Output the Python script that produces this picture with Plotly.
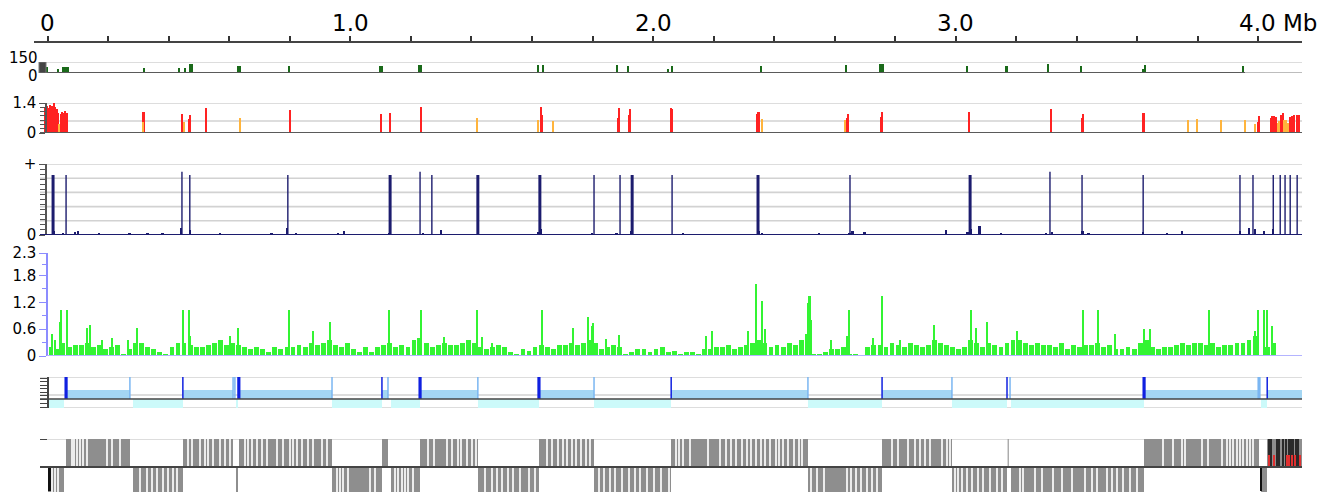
import plotly.graph_objects as go

# ---------------- DATA (positions in Mb) ----------------
axis_tick_vals = [0, 0.2, 0.4, 0.6, 0.8, 1.0, 1.2, 1.4, 1.6, 1.8, 2.0, 2.2, 2.4, 2.6, 2.8, 3.0, 3.2, 3.4, 3.6, 3.8, 4.0]
axis_label_vals = [0, 1.0, 2.0, 3.0]
axis_label_text = ["0", "1.0", "2.0", "3.0"]
axis_last_label = "4.0 Mb"

# track 1 : dark green bars (0-150)
t1_pos = [-0.003, 0.033, 0.058, 0.317, 0.433, 0.453, 0.474, 0.631, 0.797, 1.101, 1.230, 1.620, 1.636,
          1.881, 1.917, 2.050, 2.063, 2.357, 2.638, 2.755, 3.038, 3.167, 3.306, 3.415, 3.620, 3.626, 3.950]
t1_val = [80, 60, 82, 72, 75, 75, 118, 95, 95, 90, 115, 115, 115,
          115, 95, 60, 100, 95, 115, 118, 100, 95, 125, 95, 60, 115, 100]
t1_wid = [0.004, 0.003, 0.023, 0.007, 0.006, 0.006, 0.013, 0.013, 0.006, 0.013, 0.013, 0.007, 0.007,
          0.006, 0.006, 0.005, 0.007, 0.006, 0.006, 0.018, 0.006, 0.010, 0.006, 0.006, 0.005, 0.006, 0.006]
t1_labels = ["150", "0"]

# track 2 : red / orange bars (0-1.4)
t2_pos = [-0.007, -0.002, 0.003, 0.008, 0.013, 0.020, 0.025, 0.030, 0.035, 0.038, 0.043, 0.048, 0.053, 0.058, 0.063,
          0.315, 0.317, 0.443, 0.450, 0.466, 0.471, 0.522, 0.635, 0.800, 1.101, 1.131, 1.233,
          1.418, 1.620, 1.630, 1.633, 1.669, 1.884, 1.888, 1.921, 1.924, 2.060, 2.063,
          2.344, 2.347, 2.350, 2.360, 2.635, 2.641, 2.645, 2.754, 2.757, 3.045, 3.316, 3.418, 3.421, 3.620, 3.623,
          3.769, 3.798, 3.878, 3.957, 3.990, 4.000, 4.003,
          4.043, 4.046, 4.053, 4.060, 4.066, 4.069, 4.076, 4.083, 4.086, 4.093, 4.099, 4.106, 4.112, 4.119, 4.129, 4.136]
t2_val = [1.2, 1.25, 1.15, 1.3, 1.28, 1.4, 1.22, 1.1, 0.95, 0.4, 0.9, 1.0, 0.95, 1.05, 0.95,
          0.5, 0.98, 0.89, 0.5, 0.65, 0.84, 1.17, 0.7, 1.07, 0.9, 0.93, 1.2,
          0.7, 0.6, 1.2, 0.85, 0.56, 0.7, 1.15, 0.85, 1.1, 1.15, 1.1,
          0.9, 0.96, 0.96, 0.65, 0.6, 0.7, 0.87, 0.75, 0.96, 0.98, 1.1, 0.7, 0.9, 0.95, 0.95,
          0.6, 0.65, 0.6, 0.6, 0.4, 0.5, 0.8,
          0.7, 0.8, 0.8, 0.75, 0.45, 0.55, 0.85, 0.95, 0.6, 0.6, 0.45, 0.75, 0.8, 0.85, 0.85, 0.85]
t2_kind = ["r", "r", "r", "r", "r", "r", "r", "r", "r", "o", "r", "r", "r", "r", "r",
           "o", "r", "r", "o", "r", "r", "r", "o", "r", "r", "r", "r",
           "o", "o", "r", "r", "o", "r", "r", "r", "r", "r", "r",
           "r", "r", "r", "o", "o", "r", "r", "r", "r", "r", "r", "r", "r", "r", "r",
           "o", "o", "o", "o", "o", "r", "r",
           "r", "r", "r", "r", "o", "o", "r", "r", "o", "o", "o", "r", "r", "r", "r", "r"]

# track 3 : navy spikes (0-1, "+" = top)
t3_pos = [0.017, 0.060, 0.443, 0.469, 0.793, 1.131, 1.230, 1.269, 1.421, 1.626, 1.805, 1.891, 1.931, 2.063,
          2.347, 2.651, 3.048, 3.312, 3.418, 3.620, 3.940, 3.983, 4.050, 4.073, 4.089, 4.106, 4.129]
t3_val = [0.845, 0.845, 0.89, 0.845, 0.845, 0.845, 0.89, 0.845, 0.845, 0.845, 0.845, 0.845, 0.845, 0.845,
          0.845, 0.845, 0.845, 0.89, 0.845, 0.845, 0.845, 0.845, 0.845, 0.845, 0.845, 0.845, 0.845]
t3_thick = [1, 0, 0, 0, 0, 1, 0, 0, 1, 1, 0, 0, 1, 0, 1, 0, 1, 0, 0, 0, 0, 0, 0, 0, 0, 0, 0]
t3_noise_pos = [0.02, 0.05, 0.09, 0.10, 0.17, 0.27, 0.33, 0.38, 0.44, 0.47, 0.57, 0.74, 0.79, 0.82, 0.96, 0.98,
                1.13, 1.24, 1.30, 1.62, 1.63, 1.80, 1.88, 1.93, 2.10, 2.35, 2.36, 2.55, 2.65, 2.66, 2.70, 2.97,
                3.04, 3.05, 3.08, 3.15, 3.30, 3.32, 3.42, 3.44, 3.62, 3.70, 3.75, 3.94, 3.97, 3.99, 4.02, 4.05]
t3_noise_val = [0.05, 0.03, 0.04, 0.05, 0.02, 0.02, 0.02, 0.02, 0.10, 0.07, 0.02, 0.02, 0.10, 0.03, 0.03, 0.05,
                0.03, 0.03, 0.07, 0.04, 0.08, 0.03, 0.03, 0.06, 0.02, 0.06, 0.03, 0.02, 0.03, 0.05, 0.04, 0.07,
                0.04, 0.08, 0.13, 0.03, 0.03, 0.04, 0.05, 0.02, 0.04, 0.02, 0.05, 0.06, 0.10, 0.08, 0.06, 0.09]

# track 4 : green bars (0-2.3), background bins of 0.02 Mb from 0
t4_bin_start = 0.0
t4_bin_size = 0.02
t4_bins = [0.2, 0.15, 0.3, 0.2, 0.25, 0.25, 0.3, 0.2, 0.25, 0.15, 0.2, 0.25, 0.05, 0.15, 0.3,
           0.3, 0.2, 0.15, 0.1, 0.05, 0.2, 0.3, 0.3, 0.25, 0.2, 0.2, 0.25, 0.3, 0.35, 0.25,
           0.3, 0.25, 0.2, 0.15, 0.2, 0.15, 0.1, 0.2, 0.15, 0.2, 0.2, 0.25, 0.2, 0.3, 0.25,
           0.3, 0.35, 0.25, 0.2, 0.3, 0.15, 0.1, 0.2, 0.1, 0.2, 0.25, 0.3, 0.2, 0.25, 0.2,
           0.35, 0.4, 0.3, 0.2, 0.25, 0.3, 0.25, 0.25, 0.3, 0.35, 0.3, 0.2, 0.15, 0.2, 0.25,
           0.2, 0.1, 0.05, 0.15, 0.12, 0.2, 0.25, 0.2, 0.15, 0.25, 0.25, 0.3, 0.25, 0.3, 0.35,
           0.3, 0.15, 0.2, 0.25, 0.2, 0.05, 0.1, 0.15, 0.15, 0.1, 0.15, 0.2, 0.1, 0.12, 0.05,
           0.08, 0.1, 0.05, 0.15, 0.15, 0.2, 0.2, 0.25, 0.15, 0.2, 0.25, 0.3, 0.35, 0.3, 0.2,
           0.25, 0.2, 0.3, 0.25, 0.35, 0.5, 0.05, 0.05, 0.1, 0.15, 0.15, 0.2, 0.05, 0.03, 0.02,
           0.2, 0.25, 0.25, 0.2, 0.3, 0.25, 0.2, 0.3, 0.25, 0.2, 0.25, 0.35, 0.3, 0.25, 0.2,
           0.15, 0.2, 0.35, 0.3, 0.2, 0.3, 0.25, 0.2, 0.3, 0.35, 0.35, 0.3, 0.25, 0.3, 0.25,
           0.25, 0.2, 0.3, 0.15, 0.25, 0.2, 0.25, 0.25, 0.3, 0.2, 0.25, 0.15, 0.15, 0.2, 0.15,
           0.3, 0.35, 0.2, 0.15, 0.2, 0.2, 0.25, 0.3, 0.25, 0.3, 0.3, 0.25, 0.3, 0.2, 0.25,
           0.25, 0.3, 0.3, 0.35, 0.45, 0.0, 0.2, 0.3]
t4_spike_pos = [0.013, 0.023, 0.040, 0.043, 0.063, 0.129, 0.139, 0.179, 0.212, 0.264, 0.294, 0.446, 0.466, 0.469,
                0.602, 0.628, 0.797, 0.876, 0.932, 1.127, 1.223, 1.233, 1.309, 1.420, 1.435, 1.468, 1.635, 1.736,
                1.765, 1.785, 1.798, 1.804, 1.845, 1.888, 2.175, 2.195, 2.314, 2.340, 2.362, 2.370, 2.512, 2.518,
                2.522, 2.588, 2.641, 2.648, 2.727, 2.757, 2.817, 2.931, 3.051, 3.067, 3.104, 3.203, 3.421, 3.471,
                3.527, 3.623, 3.643, 3.838, 3.990, 4.000, 4.020, 4.030, 4.046]
t4_spike_val = [0.5, 0.35, 0.75, 1.03, 1.03, 0.62, 0.69, 0.35, 0.4, 0.35, 0.62, 1.03, 1.03, 0.45,
                0.45, 0.62, 1.03, 0.55, 0.75, 1.03, 0.4, 1.03, 0.42, 1.03, 0.42, 0.3, 1.03, 0.62,
                0.3, 0.86, 0.68, 0.74, 0.38, 0.47, 0.45, 0.55, 0.55, 1.61, 1.23, 0.6, 1.18, 1.33,
                0.8, 0.35, 0.45, 1.03, 0.4, 1.33, 0.35, 0.7, 1.03, 0.62, 0.75, 0.56, 1.03, 1.03,
                0.49, 0.6, 0.6, 1.03, 0.56, 1.03, 1.03, 1.03, 0.67]
t4_tick_labels = ["0", "0.6", "1.2", "1.8", "2.3"]
t4_tick_vals = [0, 0.6, 1.2, 1.8, 2.3]

# track 5 : gene blocks
fwd_start = [0.060, 0.446, 0.631, 1.104, 1.230, 1.623, 2.060, 2.757, 3.623, 4.030]
fwd_end = [0.271, 0.612, 0.939, 1.124, 1.421, 1.805, 2.512, 2.988, 4.003, 4.145]
rev_start = [-0.001, 0.281, 0.620, 0.939, 1.134, 1.421, 1.805, 2.512, 2.988, 3.183, 4.010]
rev_end = [0.053, 0.446, 0.628, 1.104, 1.230, 1.623, 2.060, 2.757, 3.170, 3.623, 4.030]
gene_dark = [0.060, 0.446, 0.631, 1.104, 1.230, 1.623, 2.060, 2.757, 3.170, 3.623, 4.030]
gene_dark_thick = [1, 0, 1, 0, 1, 1, 0, 0, 0, 1, 0]
gene_light = [0.271, 0.612, 0.618, 0.939, 1.124, 1.421, 1.805, 2.512, 2.988, 3.180, 4.003]
gene_light_thick = [0, 0, 0, 0, 0, 0, 0, 0, 0, 0, 1]

# track 6 : grey blocks with light stripes
up_stripes = [0.079, 0.086, 0.096, 0.106, 0.116, 0.129, 0.195, 0.212, 0.238,
              0.463, 0.476, 0.503, 0.519, 0.529, 0.545, 0.569, 0.585, 0.602,
              0.651, 0.661, 0.674, 0.691, 0.707, 0.724, 0.757, 0.777, 0.800, 0.810, 0.823, 0.840, 0.860, 0.876, 0.906, 0.922,
              1.256, 1.276, 1.319, 1.337, 1.355, 1.365, 1.385, 1.402, 1.415,
              1.650, 1.668, 1.686, 1.703, 1.716, 1.732, 1.746, 1.762, 1.779, 1.792,
              2.076, 2.086, 2.099, 2.122, 2.182, 2.222, 2.241, 2.258, 2.274, 2.294, 2.311, 2.324, 2.341, 2.357, 2.370,
              2.387, 2.407, 2.417, 2.430, 2.446, 2.466, 2.483, 2.493,
              2.790, 2.810, 2.843, 2.866, 2.883, 2.899, 2.916, 2.955, 2.972, 2.982,
              3.686, 3.719, 3.749, 3.759, 3.815, 3.835, 3.881, 3.897, 3.907, 3.917, 3.930, 3.940, 3.950, 3.963, 3.973, 3.983]
low_stripes = [0.013, 0.023, 0.033,
               0.304, 0.327, 0.344, 0.360, 0.380, 0.397, 0.413, 0.426,
               0.955, 0.965, 0.975, 0.992, 1.065, 1.081,
               1.147, 1.157, 1.170, 1.180, 1.190, 1.207,
               1.445, 1.468, 1.484, 1.502, 1.521, 1.537, 1.560, 1.590, 1.610,
               1.822, 1.838, 1.858, 1.874, 1.898, 1.921, 1.941, 1.957, 1.980, 2.003, 2.027, 2.053,
               2.522, 2.542, 2.565, 2.641, 2.654, 2.671, 2.688, 2.708, 2.724, 2.741,
               2.999, 3.008, 3.022, 3.038, 3.055, 3.075, 3.091, 3.114, 3.137, 3.154,
               3.213, 3.223, 3.263, 3.286, 3.322, 3.352, 3.385, 3.428, 3.451, 3.468, 3.501, 3.518, 3.534, 3.554, 3.577, 3.600]
end_dark = [4.036, 4.043, 4.063, 4.069, 4.083, 4.093, 4.102, 4.109, 4.116, 4.126, 4.132]
end_red = [4.036, 4.053, 4.096, 4.102, 4.112, 4.122, 4.139]
low_black = [0.005, 4.010]
up_thin = [3.174]

# ---------------- LAYOUT GEOMETRY ----------------
# zero margins: every domain/position is a plain fraction of the 1318x492 figure
W, H = 1318, 492
X_RANGE = [-0.046, 4.145]


def fy(ypix):
    return (H - ypix) / H


def fx(xpix):
    return xpix / W


X_DOMAIN = [fx(34), fx(1302)]
TRACK_X0 = fx(40)
TRACK_X1 = fx(1302)
AXPOS = fx(46)

RED, ORANGE = "#ff2222", "#ffb43c"
NAVY = "#1c1c6e"
GREEN = "#33f433"
DKGREEN = "#1a6a1a"
GRID = "#d2d2d2"
BASE = "#5a5a5a"
FONT = "DejaVu Sans"

fig = go.Figure()


def center(a, b):
    return [(s + e) / 2 for s, e in zip(a, b)]


def length(a, b):
    return [e - s for s, e in zip(a, b)]


def segs(pos, y0, y1):
    xs, ys = [], []
    for p in pos:
        xs += [p, p, None]
        ys += [y0, y1, None]
    return xs, ys


# track 1
fig.add_trace(go.Bar(x=t1_pos, y=t1_val, width=t1_wid, marker=dict(color=DKGREEN, line=dict(width=0)),
                     xaxis="x", yaxis="y", hoverinfo="skip"))

# track 2
for kind, col in (("r", RED), ("o", ORANGE)):
    xs = [p for p, k in zip(t2_pos, t2_kind) if k == kind]
    ys = [v for v, k in zip(t2_val, t2_kind) if k == kind]
    fig.add_trace(go.Bar(x=xs, y=ys, width=0.0055, marker=dict(color=col, line=dict(width=0)),
                         xaxis="x", yaxis="y2", hoverinfo="skip"))

# track 3
fig.add_trace(go.Bar(x=t3_noise_pos, y=t3_noise_val, width=0.006, marker=dict(color=NAVY, line=dict(width=0)),
                     xaxis="x", yaxis="y3", hoverinfo="skip"))
for thick, lw in ((0, 1.4), (1, 3)):
    xs, ys = [], []
    for p, v, t in zip(t3_pos, t3_val, t3_thick):
        if t == thick:
            xs += [p, p, None]
            ys += [0, v, None]
    fig.add_trace(go.Scatter(x=xs, y=ys, mode="lines", line=dict(color=NAVY, width=lw),
                             xaxis="x", yaxis="y3", hoverinfo="skip"))

# track 4
t4_x = [t4_bin_start + t4_bin_size * (i + 0.5) for i in range(len(t4_bins))]
fig.add_trace(go.Bar(x=t4_x, y=t4_bins, width=0.016, marker=dict(color=GREEN, line=dict(width=0)),
                     xaxis="x", yaxis="y4", hoverinfo="skip"))
fig.add_trace(go.Bar(x=t4_spike_pos, y=t4_spike_val, width=0.005, marker=dict(color=GREEN, line=dict(width=0)),
                     xaxis="x", yaxis="y4", hoverinfo="skip"))

# track 5
fig.add_trace(go.Bar(x=center(fwd_start, fwd_end), y=[0.9] * len(fwd_start), base=0, width=length(fwd_start, fwd_end),
                     marker=dict(color="#a4d6f3", line=dict(width=0)), xaxis="x", yaxis="y5", hoverinfo="skip"))
fig.add_trace(go.Bar(x=center(rev_start, rev_end), y=[0.9] * len(rev_start), base=-0.9, width=length(rev_start, rev_end),
                     marker=dict(color="#ccfafa", line=dict(width=0)), xaxis="x", yaxis="y5", hoverinfo="skip"))
for plist, tlist, col in ((gene_light, gene_light_thick, "#7ab6f2"), (gene_dark, gene_dark_thick, "#1020e0")):
    for thick, lw in ((0, 1.5), (1, 3.2)):
        xs, ys = segs([p for p, t in zip(plist, tlist) if t == thick], 0, 2.2)
        fig.add_trace(go.Scatter(x=xs, y=ys, mode="lines", line=dict(color=col, width=lw),
                                 xaxis="x", yaxis="y5", hoverinfo="skip"))

# track 6
GREY = "#8e8e8e"
fig.add_trace(go.Bar(x=center(fwd_start, fwd_end), y=[1] * len(fwd_start), base=0, width=length(fwd_start, fwd_end),
                     marker=dict(color=GREY, line=dict(width=0)), xaxis="x", yaxis="y6", hoverinfo="skip"))
fig.add_trace(go.Bar(x=center(rev_start, rev_end), y=[0.95] * len(rev_start), base=-0.95, width=length(rev_start, rev_end),
                     marker=dict(color=GREY, line=dict(width=0)), xaxis="x", yaxis="y6", hoverinfo="skip"))
fig.add_trace(go.Bar(x=up_stripes, y=[1] * len(up_stripes), base=0, width=0.0045,
                     marker=dict(color="#ececec", line=dict(width=0)), xaxis="x", yaxis="y6", hoverinfo="skip"))
fig.add_trace(go.Bar(x=low_stripes, y=[0.95] * len(low_stripes), base=-0.95, width=0.0045,
                     marker=dict(color="#ececec", line=dict(width=0)), xaxis="x", yaxis="y6", hoverinfo="skip"))
fig.add_trace(go.Bar(x=end_dark, y=[1] * len(end_dark), base=0, width=0.005,
                     marker=dict(color="#2a2a2a", line=dict(width=0)), xaxis="x", yaxis="y6", hoverinfo="skip"))
fig.add_trace(go.Bar(x=end_red, y=[0.43] * len(end_red), base=0, width=0.005,
                     marker=dict(color="#e03030", line=dict(width=0)), xaxis="x", yaxis="y6", hoverinfo="skip"))
fig.add_trace(go.Bar(x=low_black, y=[0.85] * len(low_black), base=-0.85, width=0.008,
                     marker=dict(color="#111111", line=dict(width=0)), xaxis="x", yaxis="y6", hoverinfo="skip"))
xs, ys = segs(up_thin, 0, 1)
fig.add_trace(go.Scatter(x=xs, y=ys, mode="lines", line=dict(color="#9a9a9a", width=1.2),
                         xaxis="x", yaxis="y6", hoverinfo="skip"))

# ---------------- horizontal lines ----------------
shapes = []


def hline(yref, val, color, width, layer="below", x0=TRACK_X0, x1=TRACK_X1):
    shapes.append(dict(type="line", xref="paper", x0=x0, x1=x1, yref=yref, y0=val, y1=val,
                       line=dict(color=color, width=width), layer=layer))


hline("y", 150, GRID, 1.6)
hline("y", 0, BASE, 2, "above", x1=fx(1245))
hline("y", 0, "#bdbdbd", 2, "above", x0=fx(1245))
hline("y2", 1.4, GRID, 1.6)
hline("y2", 0.56, GRID, 1.6)
hline("y2", 0, BASE, 2, "above")
for v in (0.2, 0.4, 0.6, 0.8, 1.0):
    hline("y3", v, GRID, 1.6)
hline("y3", 0, NAVY, 2, "above")
hline("y4", 0, "#b4b4ff", 2, "above", x0=fx(47))
hline("y5", 2.2, GRID, 1.6)
hline("y5", 0.4, GRID, 1.6)
hline("y5", -0.9, GRID, 1.6)
hline("y5", 0, "#444444", 1.6, "above")
hline("y6", 1, GRID, 1.6)
hline("y6", 0, "#444444", 2, "above")
# small dark handle in track 1
shapes.append(dict(type="rect", xref="paper", x0=fx(39), x1=fx(46), yref="y", y0=0, y1=150,
                   fillcolor="#444444", line=dict(color="#777777", width=1), layer="above"))

fig.update_layout(shapes=shapes)

# ---------------- axes ----------------
lab = dict(family=FONT, size=15, color="#000000")
common_y = dict(anchor="free", position=AXPOS, showgrid=False, zeroline=False, fixedrange=True, tickfont=lab)

fig.update_layout(
    width=W, height=H,
    margin=dict(l=0, r=0, t=0, b=0, pad=0, autoexpand=False),
    paper_bgcolor="white", plot_bgcolor="white",
    showlegend=False, barmode="overlay", bargap=0,
    font=dict(family=FONT, color="#000000"),
    xaxis=dict(domain=X_DOMAIN, range=X_RANGE, anchor="free", position=fy(42), side="top",
               tickmode="array", tickvals=axis_tick_vals, ticktext=[""] * len(axis_tick_vals),
               ticks="outside", ticklen=5, tickwidth=2, tickcolor="#333333",
               showline=True, linecolor="#444444", linewidth=2, showgrid=False, zeroline=False,
               fixedrange=True),
    yaxis=dict(domain=[fy(73), fy(62)], range=[0, 150], tickmode="array", tickvals=[0, 150],
               showticklabels=False, ticks="", showline=False, **common_y),
    yaxis2=dict(domain=[fy(133), fy(103)], range=[0, 1.4], tickmode="array", tickvals=[0, 1.4],
                ticktext=["0", "1.4"], ticks="outside", ticklen=6, tickcolor="#555555",
                showline=True, linecolor="#555555", linewidth=1.5,
                minor=dict(ticks="outside", ticklen=5, dtick=0.2, tickcolor="#555555", showgrid=False),
                **common_y),
    yaxis3=dict(domain=[fy(235), fy(164)], range=[0, 1], tickmode="array", tickvals=[0, 1],
                ticktext=["0", "+"], ticks="outside", ticklen=6, tickcolor="#555555",
                showline=True, linecolor="#555555", linewidth=1.5,
                minor=dict(ticks="outside", ticklen=5, dtick=1 / 14, tickcolor="#555555", showgrid=False),
                **common_y),
    yaxis4=dict(domain=[fy(356), fy(253)], range=[0, 2.3], tickmode="array", tickvals=t4_tick_vals,
                ticktext=t4_tick_labels, ticks="outside", ticklen=7, tickcolor="#8c8cff",
                showline=True, linecolor="#8c8cff", linewidth=1.5,
                minor=dict(ticks="outside", ticklen=4, tickmode="array", tickvals=[0.3, 0.9, 1.5, 2.05],
                           tickcolor="#8c8cff", showgrid=False),
                anchor="free", position=fx(47), showgrid=False, zeroline=False, fixedrange=True, tickfont=lab),
    yaxis5=dict(domain=[fy(408), fy(377)], range=[-0.9, 2.2], tickmode="array",
                tickvals=[-0.8, -0.4, 0, 0.35, 0.7, 1.05, 1.4, 1.75, 2.1], showticklabels=False,
                ticks="outside", ticklen=7, tickcolor="#444444", showline=True, linecolor="#444444", linewidth=1.5,
                anchor="free", position=fx(48), showgrid=False, zeroline=False, fixedrange=True),
    yaxis6=dict(domain=[0, fy(439)], range=[-0.893, 1], tickmode="array", tickvals=[0, 1], showticklabels=False,
                ticks="outside", ticklen=7, tickcolor="#444444", showline=False,
                anchor="free", position=fx(47), showgrid=False, zeroline=False, fixedrange=True),
)

# top axis labels
big = dict(family=FONT, size=23, color="#000000")
for v, t in zip(axis_label_vals, axis_label_text):
    fig.add_annotation(text=t, xref="x", x=v, xanchor="center", yref="paper", y=fy(23.5), yanchor="middle",
                       showarrow=False, font=big)
fig.add_annotation(text=axis_last_label, xref="x", x=3.931, xanchor="left", yref="paper", y=fy(23.5),
                   yanchor="middle", showarrow=False, font=big)

# track 1 labels (placed apart as in the reference)
for t, ypx in zip(t1_labels, (58, 75.5)):
    fig.add_annotation(text=t, xref="paper", x=fx(40), xanchor="right", yref="paper", y=fy(ypx),
                       yanchor="middle", showarrow=False, font=lab)

# remove the default page margin so the figure sits at the window's top-left corner
fig.write_html("out.html", config={"displayModeBar": False},
               post_script="document.body.style.margin='0';document.body.style.overflow='hidden';")
